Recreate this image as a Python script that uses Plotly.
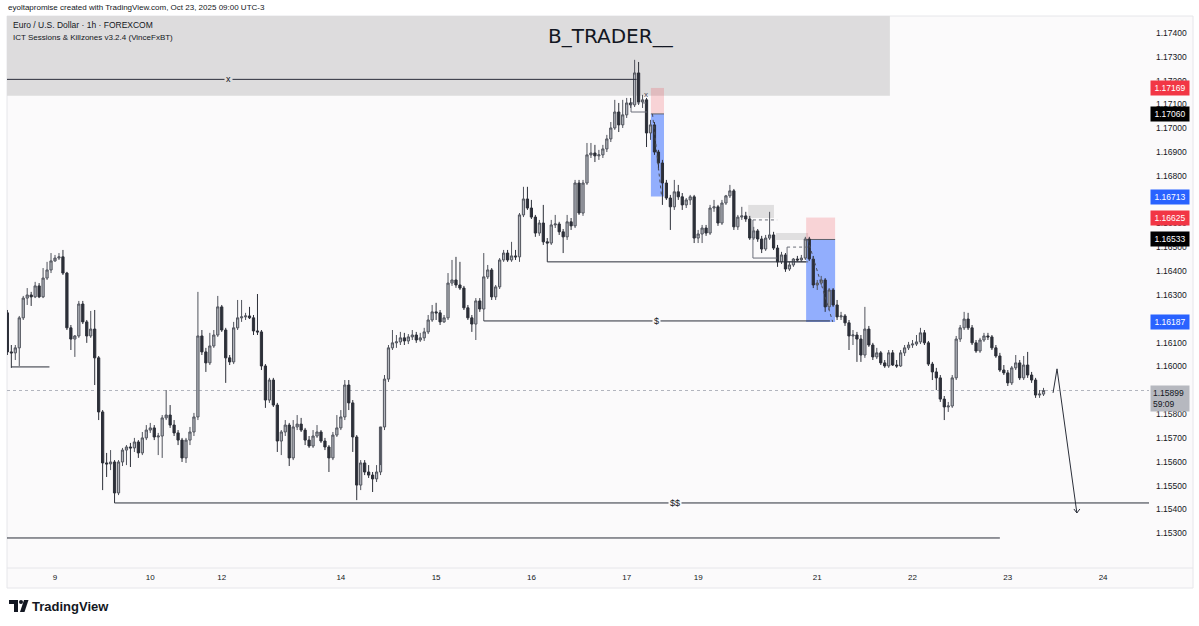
import pandas as pd
import plotly.graph_objects as go

# ---------------- text ----------------
credit_line = "eyoltapromise created with TradingView.com, Oct 23, 2025 09:00 UTC-3"
symbol_line = "Euro / U.S. Dollar · 1h · FOREXCOM"
indicator_line = "ICT Sessions & Killzones v3.2.4 (VinceFxBT)"
title_text = "B_TRADER__"

# ---------------- data (EURUSD 1h, first bar 2025-10-08 12:00 UTC-3) ----------------
first_bar = "2025-10-08 12:00"
opens = [
 1.16225, 1.16061, 1.16057, 1.16078, 1.16204, 1.16287, 1.16300, 1.16292, 1.16338, 1.16292,
 1.16371, 1.16405, 1.16443, 1.16455, 1.16460, 1.16392, 1.16162, 1.16115, 1.16128, 1.16262,
 1.16187, 1.16128, 1.16157, 1.16036, 1.15809, 1.15595, 1.15591, 1.15599, 1.15469, 1.15599,
 1.15649, 1.15662, 1.15658, 1.15683, 1.15637, 1.15700, 1.15733, 1.15742, 1.15704, 1.15708,
 1.15784, 1.15796, 1.15754, 1.15721, 1.15691, 1.15616, 1.15691, 1.15725, 1.15788, 1.16128,
 1.16061, 1.16015, 1.16086, 1.16132, 1.16250, 1.16153, 1.16036, 1.16019, 1.16162, 1.16204,
 1.16208, 1.16212, 1.16204, 1.16149, 1.16145, 1.16002, 1.15859, 1.15943, 1.15838, 1.15687,
 1.15725, 1.15754, 1.15616, 1.15746, 1.15758, 1.15733, 1.15691, 1.15666, 1.15708, 1.15725,
 1.15687, 1.15662, 1.15616, 1.15712, 1.15742, 1.15788, 1.15922, 1.15847, 1.15704, 1.15502,
 1.15595, 1.15557, 1.15544, 1.15528, 1.15557, 1.15746, 1.15947, 1.16078, 1.16099, 1.16103,
 1.16120, 1.16107, 1.16124, 1.16132, 1.16111, 1.16120, 1.16145, 1.16195, 1.16229, 1.16225,
 1.16187, 1.16204, 1.16350, 1.16363, 1.16342, 1.16329, 1.16246, 1.16204, 1.16178, 1.16275,
 1.16241, 1.16376, 1.16405, 1.16292, 1.16334, 1.16447, 1.16476, 1.16447, 1.16464, 1.16460,
 1.16636, 1.16703, 1.16665, 1.16627, 1.16560, 1.16602, 1.16523, 1.16518, 1.16594, 1.16598,
 1.16565, 1.16544, 1.16607, 1.16590, 1.16770, 1.16644, 1.16770, 1.16888, 1.16896, 1.16884,
 1.16888, 1.16913, 1.16955, 1.17001, 1.17068, 1.17014, 1.17056, 1.17106, 1.17098, 1.17232,
 1.17110, 1.17119, 1.16980, 1.17014, 1.16900, 1.16854, 1.16770, 1.16707, 1.16670, 1.16733,
 1.16712, 1.16678, 1.16699, 1.16712, 1.16539, 1.16556, 1.16581, 1.16560, 1.16665, 1.16670,
 1.16602, 1.16686, 1.16716, 1.16737, 1.16586, 1.16627, 1.16632, 1.16619, 1.16539, 1.16569,
 1.16535, 1.16493, 1.16539, 1.16552, 1.16497, 1.16439, 1.16468, 1.16409, 1.16426, 1.16451,
 1.16447, 1.16455, 1.16535, 1.16451, 1.16342, 1.16350, 1.16363, 1.16250, 1.16321, 1.16258,
 1.16208, 1.16212, 1.16183, 1.16128, 1.16132, 1.16115, 1.16048, 1.16157, 1.16090, 1.16040,
 1.16057, 1.16015, 1.16002, 1.16057, 1.16006, 1.16002, 1.16057, 1.16078, 1.16090, 1.16094,
 1.16103, 1.16141, 1.16099, 1.16010, 1.15977, 1.15952, 1.15863, 1.15830, 1.15834, 1.15952,
 1.16115, 1.16162, 1.16199, 1.16162, 1.16099, 1.16065, 1.16111, 1.16128, 1.16124, 1.16078,
 1.16044, 1.15985, 1.15973, 1.15931, 1.15994, 1.16015, 1.15952, 1.16006, 1.15964, 1.15943,
 1.15880, 1.15884,
]
highs = [
 1.16237, 1.16090, 1.16090, 1.16212, 1.16296, 1.16329, 1.16313, 1.16355, 1.16350, 1.16413,
 1.16439, 1.16476, 1.16468, 1.16476, 1.16489, 1.16397, 1.16174, 1.16132, 1.16275, 1.16275,
 1.16195, 1.16233, 1.16237, 1.16044, 1.15817, 1.15637, 1.15649, 1.15607, 1.15607, 1.15658,
 1.15670, 1.15679, 1.15700, 1.15691, 1.15725, 1.15754, 1.15763, 1.15754, 1.15721, 1.15796,
 1.15901, 1.15838, 1.15775, 1.15733, 1.15700, 1.15700, 1.15746, 1.15805, 1.16313, 1.16153,
 1.16078, 1.16141, 1.16153, 1.16296, 1.16258, 1.16162, 1.16048, 1.16187, 1.16279, 1.16279,
 1.16225, 1.16250, 1.16216, 1.16304, 1.16153, 1.16010, 1.15952, 1.15952, 1.15847, 1.15733,
 1.15775, 1.15763, 1.15775, 1.15796, 1.15784, 1.15742, 1.15708, 1.15733, 1.15754, 1.15733,
 1.15700, 1.15670, 1.15725, 1.15796, 1.15817, 1.15943, 1.15943, 1.15859, 1.15712, 1.15607,
 1.15607, 1.15586, 1.15557, 1.15586, 1.15586, 1.15964, 1.16090, 1.16153, 1.16132, 1.16145,
 1.16141, 1.16136, 1.16153, 1.16145, 1.16141, 1.16162, 1.16216, 1.16258, 1.16267, 1.16237,
 1.16216, 1.16392, 1.16447, 1.16460, 1.16439, 1.16338, 1.16258, 1.16216, 1.16287, 1.16287,
 1.16476, 1.16426, 1.16413, 1.16342, 1.16455, 1.16489, 1.16489, 1.16523, 1.16489, 1.16644,
 1.16754, 1.16754, 1.16699, 1.16636, 1.16615, 1.16678, 1.16539, 1.16615, 1.16636, 1.16607,
 1.16577, 1.16636, 1.16623, 1.16783, 1.16783, 1.16783, 1.16938, 1.16938, 1.16930, 1.16909,
 1.16930, 1.16972, 1.17026, 1.17119, 1.17106, 1.17119, 1.17127, 1.17127, 1.17287, 1.17278,
 1.17140, 1.17127, 1.17035, 1.17026, 1.16909, 1.16867, 1.16783, 1.16720, 1.16783, 1.16762,
 1.16728, 1.16707, 1.16720, 1.16720, 1.16573, 1.16594, 1.16594, 1.16678, 1.16699, 1.16678,
 1.16699, 1.16720, 1.16762, 1.16745, 1.16636, 1.16670, 1.16649, 1.16632, 1.16586, 1.16577,
 1.16548, 1.16552, 1.16649, 1.16565, 1.16510, 1.16481, 1.16476, 1.16439, 1.16455, 1.16464,
 1.16468, 1.16544, 1.16544, 1.16464, 1.16363, 1.16380, 1.16371, 1.16329, 1.16329, 1.16279,
 1.16229, 1.16220, 1.16195, 1.16153, 1.16145, 1.16132, 1.16250, 1.16170, 1.16099, 1.16078,
 1.16065, 1.16027, 1.16069, 1.16069, 1.16027, 1.16069, 1.16090, 1.16103, 1.16111, 1.16132,
 1.16162, 1.16153, 1.16107, 1.16019, 1.15994, 1.15964, 1.15876, 1.15851, 1.15964, 1.16128,
 1.16174, 1.16229, 1.16225, 1.16174, 1.16111, 1.16120, 1.16141, 1.16141, 1.16132, 1.16090,
 1.16057, 1.16006, 1.15985, 1.16002, 1.16048, 1.16027, 1.16044, 1.16061, 1.15977, 1.15952,
 1.15901, 1.15910,
]
lows = [
 1.16048, 1.15994, 1.16027, 1.16002, 1.16195, 1.16258, 1.16254, 1.16287, 1.16287, 1.16287,
 1.16363, 1.16392, 1.16439, 1.16447, 1.16384, 1.16153, 1.16069, 1.16040, 1.16120, 1.16178,
 1.16099, 1.16120, 1.15922, 1.15775, 1.15481, 1.15536, 1.15565, 1.15427, 1.15460, 1.15582,
 1.15586, 1.15578, 1.15641, 1.15616, 1.15628, 1.15691, 1.15721, 1.15691, 1.15628, 1.15616,
 1.15775, 1.15742, 1.15708, 1.15670, 1.15599, 1.15595, 1.15670, 1.15708, 1.15775, 1.16048,
 1.15977, 1.16006, 1.16078, 1.16124, 1.16145, 1.15931, 1.16006, 1.16010, 1.16153, 1.16187,
 1.16195, 1.16199, 1.16132, 1.16132, 1.15985, 1.15826, 1.15847, 1.15830, 1.15641, 1.15628,
 1.15708, 1.15582, 1.15607, 1.15733, 1.15725, 1.15670, 1.15658, 1.15658, 1.15700, 1.15679,
 1.15649, 1.15557, 1.15607, 1.15704, 1.15733, 1.15775, 1.15817, 1.15641, 1.15439, 1.15481,
 1.15544, 1.15532, 1.15473, 1.15515, 1.15544, 1.15733, 1.15935, 1.16069, 1.16078, 1.16090,
 1.16090, 1.16094, 1.16111, 1.16099, 1.16103, 1.16107, 1.16136, 1.16187, 1.16195, 1.16174,
 1.16183, 1.16195, 1.16338, 1.16330, 1.16321, 1.16237, 1.16195, 1.16145, 1.16111, 1.16229,
 1.16191, 1.16367, 1.16279, 1.16279, 1.16325, 1.16439, 1.16439, 1.16439, 1.16447, 1.16439,
 1.16627, 1.16657, 1.16619, 1.16544, 1.16548, 1.16510, 1.16439, 1.16510, 1.16581, 1.16552,
 1.16476, 1.16531, 1.16573, 1.16581, 1.16636, 1.16632, 1.16762, 1.16875, 1.16858, 1.16867,
 1.16875, 1.16900, 1.16942, 1.16993, 1.16984, 1.17001, 1.17043, 1.17085, 1.17089, 1.17098,
 1.17085, 1.16921, 1.16951, 1.16888, 1.16825, 1.16678, 1.16699, 1.16573, 1.16657, 1.16699,
 1.16657, 1.16665, 1.16678, 1.16518, 1.16518, 1.16518, 1.16548, 1.16552, 1.16649, 1.16590,
 1.16594, 1.16678, 1.16707, 1.16573, 1.16573, 1.16615, 1.16607, 1.16531, 1.16531, 1.16523,
 1.16476, 1.16485, 1.16531, 1.16489, 1.16418, 1.16430, 1.16397, 1.16401, 1.16418, 1.16439,
 1.16439, 1.16447, 1.16443, 1.16329, 1.16321, 1.16342, 1.16229, 1.16237, 1.16250, 1.16195,
 1.16195, 1.16170, 1.16069, 1.16090, 1.16019, 1.16019, 1.16036, 1.16082, 1.16027, 1.16031,
 1.16006, 1.15994, 1.15994, 1.16002, 1.15994, 1.15998, 1.16044, 1.16069, 1.16078, 1.16086,
 1.16094, 1.16090, 1.16002, 1.15943, 1.15901, 1.15851, 1.15775, 1.15809, 1.15826, 1.15943,
 1.16103, 1.16153, 1.16153, 1.16090, 1.16057, 1.16057, 1.16103, 1.16111, 1.16069, 1.16036,
 1.15977, 1.15964, 1.15918, 1.15922, 1.15985, 1.15943, 1.15943, 1.15952, 1.15931, 1.15868,
 1.15868, 1.15876,
]
closes = [
 1.16061, 1.16057, 1.16078, 1.16204, 1.16287, 1.16300, 1.16292, 1.16338, 1.16292, 1.16371,
 1.16405, 1.16443, 1.16455, 1.16460, 1.16392, 1.16162, 1.16115, 1.16128, 1.16262, 1.16187,
 1.16128, 1.16157, 1.16036, 1.15809, 1.15595, 1.15591, 1.15599, 1.15469, 1.15599, 1.15649,
 1.15662, 1.15658, 1.15683, 1.15637, 1.15700, 1.15733, 1.15742, 1.15704, 1.15708, 1.15784,
 1.15796, 1.15754, 1.15721, 1.15691, 1.15616, 1.15691, 1.15725, 1.15788, 1.16128, 1.16061,
 1.16015, 1.16086, 1.16132, 1.16250, 1.16153, 1.16036, 1.16019, 1.16162, 1.16204, 1.16208,
 1.16212, 1.16204, 1.16149, 1.16145, 1.16002, 1.15859, 1.15943, 1.15838, 1.15687, 1.15725,
 1.15754, 1.15616, 1.15746, 1.15758, 1.15733, 1.15691, 1.15666, 1.15708, 1.15725, 1.15687,
 1.15662, 1.15616, 1.15712, 1.15742, 1.15788, 1.15922, 1.15847, 1.15704, 1.15502, 1.15595,
 1.15557, 1.15544, 1.15528, 1.15557, 1.15746, 1.15947, 1.16078, 1.16099, 1.16103, 1.16120,
 1.16107, 1.16124, 1.16132, 1.16111, 1.16120, 1.16145, 1.16195, 1.16229, 1.16225, 1.16187,
 1.16204, 1.16350, 1.16363, 1.16342, 1.16329, 1.16246, 1.16204, 1.16178, 1.16275, 1.16241,
 1.16376, 1.16405, 1.16292, 1.16334, 1.16447, 1.16476, 1.16447, 1.16464, 1.16460, 1.16636,
 1.16703, 1.16665, 1.16627, 1.16560, 1.16602, 1.16523, 1.16518, 1.16594, 1.16598, 1.16565,
 1.16544, 1.16607, 1.16590, 1.16770, 1.16644, 1.16770, 1.16888, 1.16896, 1.16884, 1.16888,
 1.16913, 1.16955, 1.17001, 1.17068, 1.17014, 1.17056, 1.17106, 1.17098, 1.17232, 1.17110,
 1.17119, 1.16980, 1.17014, 1.16900, 1.16854, 1.16770, 1.16707, 1.16670, 1.16733, 1.16712,
 1.16678, 1.16699, 1.16712, 1.16539, 1.16556, 1.16581, 1.16560, 1.16665, 1.16670, 1.16602,
 1.16686, 1.16716, 1.16737, 1.16586, 1.16627, 1.16632, 1.16619, 1.16539, 1.16569, 1.16535,
 1.16493, 1.16539, 1.16552, 1.16497, 1.16439, 1.16468, 1.16409, 1.16426, 1.16451, 1.16447,
 1.16455, 1.16535, 1.16451, 1.16342, 1.16350, 1.16363, 1.16250, 1.16321, 1.16258, 1.16208,
 1.16212, 1.16183, 1.16128, 1.16132, 1.16115, 1.16048, 1.16157, 1.16090, 1.16040, 1.16057,
 1.16015, 1.16002, 1.16057, 1.16006, 1.16002, 1.16057, 1.16078, 1.16090, 1.16094, 1.16103,
 1.16141, 1.16099, 1.16010, 1.15977, 1.15952, 1.15863, 1.15830, 1.15834, 1.15952, 1.16115,
 1.16162, 1.16199, 1.16162, 1.16099, 1.16065, 1.16111, 1.16128, 1.16124, 1.16078, 1.16044,
 1.15985, 1.15973, 1.15931, 1.15994, 1.16015, 1.15952, 1.16006, 1.15964, 1.15943, 1.15880,
 1.15884, 1.15899,
]

# axis ticks
tick_times = ["2025-10-09 00:00", "2025-10-10 00:00", "2025-10-12 18:00", "2025-10-14 00:00",
              "2025-10-15 00:00", "2025-10-16 00:00", "2025-10-17 00:00", "2025-10-19 18:00",
              "2025-10-21 00:00", "2025-10-22 00:00", "2025-10-23 00:00", "2025-10-24 00:00"]
tick_labels = ["9", "10", "12", "14", "15", "16", "17", "19", "21", "22", "23", "24"]
price_ticks = [1.153, 1.154, 1.155, 1.156, 1.157, 1.158, 1.159, 1.160, 1.161, 1.162, 1.163,
               1.164, 1.165, 1.166, 1.167, 1.168, 1.169, 1.170, 1.171, 1.172, 1.173, 1.174]

# drawing levels / anchors
level_x = 1.17205
level_left_low = 1.15998
level_mid_low = 1.16439
level_dollar = 1.16191
level_double_dollar = 1.15427
level_bottom = 1.15280
supply_zone_bottom = 1.17136
last_price = 1.15899
short1 = dict(stop=1.17169, entry=1.17060, target=1.16713,
              start="2025-10-17 06:06", end="2025-10-17 09:24")
short2 = dict(stop=1.16625, entry=1.16533, target=1.16187,
              start="2025-10-20 21:12", end="2025-10-21 04:30")
grey_zone_a = dict(top=1.16678, bottom=1.16623, start="2025-10-20 06:36", end="2025-10-20 13:06")
grey_zone_b = dict(top=1.16560, bottom=1.16531, start="2025-10-20 13:36", end="2025-10-20 21:42")
outline_a = dict(top=1.16615, bottom=1.16455, start="2025-10-20 07:48", end="2025-10-20 13:54")
outline_b = dict(top=1.16501, bottom=1.16439, start="2025-10-20 16:24", end="2025-10-20 21:42")
peak_outline = dict(top=1.17106, bottom=1.17068, start="2025-10-17 01:06", end="2025-10-17 05:06")
peak_mark = dict(time="2025-10-17 04:54", price=1.17140)
projection_times = ["2025-10-23 11:24", "2025-10-23 12:24", "2025-10-23 17:24"]
projection_prices = [1.15889, 1.15990, 1.15385]

# ---------------- trading-hour calendar (weekend gap removed) ----------------
def trading_hours(start, end):
    out = []
    for t in pd.date_range(start, end, freq="h"):
        wd = t.weekday()
        if (wd == 4 and t.hour >= 18) or wd == 5 or (wd == 6 and t.hour < 18):
            continue
        out.append(t)
    return out

hours = trading_hours(first_bar, "2025-10-25 12:00")
hour_pos = {t: i for i, t in enumerate(hours)}

def bx(ts):
    t = pd.Timestamp(ts)
    base = t.floor("h")
    return hour_pos[base] + (t - base).total_seconds() / 3600.0

n = len(closes)
bar_x = [bx(t) for t in hours[:n]]

# ---------------- layout geometry (pixels) ----------------
W, H = 1199, 626
PL, PR, PT, PB = 7, 1149, 16, 568
pw, ph = PR - PL, PB - PT
bar_px = 3.97
x_range = [bx("2025-10-09 00:00") - (55 - PL) / bar_px, bx("2025-10-09 00:00") + (PR - 55) / bar_px]
y_range = [1.15154, 1.17471]
px_per_price = ph / (y_range[1] - y_range[0])

def pxx(x):
    return (x - PL) / pw

def pxy(y):
    return (PB - y) / ph

BG = "#fbfafb"
TXT = "#131722"
FONT = "Liberation Sans, Arial, sans-serif"

fig = go.Figure()

fig.add_trace(go.Candlestick(
    x=bar_x, open=opens, high=highs, low=lows, close=closes,
    increasing=dict(line=dict(color="#50535c", width=1), fillcolor="#b3b6bd"),
    decreasing=dict(line=dict(color="#2c2f38", width=1), fillcolor="#2c2f38"),
    whiskerwidth=0, showlegend=False, hoverinfo="skip"))

# projection arrow
proj_x = [bx(t) for t in projection_times]
fig.add_trace(go.Scatter(x=proj_x, y=projection_prices, mode="lines",
                         line=dict(color="#2a2e39", width=1), showlegend=False, hoverinfo="skip"))
tip_x, tip_y = proj_x[-1], projection_prices[-1]
ax_off = 3 / bar_px
ay_off = 4 / px_per_price
fig.add_trace(go.Scatter(x=[tip_x - ax_off, tip_x, tip_x + ax_off],
                         y=[tip_y + ay_off, tip_y, tip_y + ay_off], mode="lines",
                         line=dict(color="#2a2e39", width=1), showlegend=False, hoverinfo="skip"))

shapes = []
# chart background (plot + price scale + time scale)
shapes.append(dict(type="rect", xref="paper", yref="paper", x0=0, x1=pxx(1193), y0=pxy(588), y1=1,
                   fillcolor=BG, line=dict(color="#e6e6ea", width=1), layer="below"))
shapes.append(dict(type="line", xref="paper", yref="paper", x0=0, x1=pxx(1193), y0=0, y1=0,
                   line=dict(color="#e6e6ea", width=1), layer="below"))
# supply zone (grey box at top)
shapes.append(dict(type="rect", xref="x", yref="y", x0=x_range[0], x1=bx("2025-10-21 18:18"),
                   y0=supply_zone_bottom, y1=y_range[1], fillcolor="#dddcdd", line=dict(width=0), layer="below"))
# grey zones
for z in (grey_zone_a, grey_zone_b):
    shapes.append(dict(type="rect", xref="x", yref="y", x0=bx(z["start"]), x1=bx(z["end"]),
                       y0=z["bottom"], y1=z["top"], fillcolor="#e0dfe0", line=dict(width=0), layer="below"))
for z in (outline_a, outline_b, peak_outline):
    shapes.append(dict(type="line", xref="x", yref="y", x0=bx(z["start"]), x1=bx(z["end"]),
                       y0=z["top"], y1=z["top"], line=dict(color="#6a6d78", width=1, dash="dot"), layer="above"))
    shapes.append(dict(type="line", xref="x", yref="y", x0=bx(z["start"]), x1=bx(z["start"]),
                       y0=z["top"], y1=z["bottom"], line=dict(color="#6a6d78", width=1), layer="above"))
    shapes.append(dict(type="line", xref="x", yref="y", x0=bx(z["start"]), x1=bx(z["end"]),
                       y0=z["bottom"], y1=z["bottom"], line=dict(color="#6a6d78", width=1), layer="above"))
# short positions
for s in (short1, short2):
    x0, x1 = bx(s["start"]), bx(s["end"])
    shapes.append(dict(type="rect", xref="x", yref="y", x0=x0, x1=x1, y0=s["entry"], y1=s["stop"],
                       fillcolor="rgba(242,54,69,0.2)", line=dict(width=0), layer="below"))
    shapes.append(dict(type="rect", xref="x", yref="y", x0=x0, x1=x1, y0=s["target"], y1=s["entry"],
                       fillcolor="rgba(41,98,255,0.5)", line=dict(width=0), layer="below"))
    shapes.append(dict(type="line", xref="x", yref="y", x0=x0, x1=x1, y0=s["entry"], y1=s["entry"],
                       line=dict(color="#5d606b", width=1), layer="below"))
    shapes.append(dict(type="line", xref="x", yref="y", x0=x0 + 0.4, x1=x1 - 0.6, y0=s["entry"], y1=s["target"],
                       line=dict(color="#4a4d57", width=1, dash="dot"), layer="above"))
# last price dotted line
shapes.append(dict(type="line", xref="x", yref="y", x0=x_range[0], x1=x_range[1], y0=last_price, y1=last_price,
                   line=dict(color="#b2b5be", width=1, dash="dot"), layer="below"))
# horizontal levels
levels = [
    (x_range[0], bx("2025-10-17 02:30"), level_x),
    (bx("2025-10-08 13:00"), bx("2025-10-08 22:36"), level_left_low),
    (bx("2025-10-16 04:00"), bx("2025-10-20 21:12"), level_mid_low),
    (bx("2025-10-15 12:00"), bx("2025-10-21 03:12"), level_dollar),
    (bx("2025-10-09 15:00"), x_range[1], level_double_dollar),
    (x_range[0], bx("2025-10-22 22:00"), level_bottom),
]
for x0, x1, lv in levels:
    shapes.append(dict(type="line", xref="x", yref="y", x0=x0, x1=x1, y0=lv, y1=lv,
                       line=dict(color="#2a2e39", width=1), layer="above"))

annotations = []
# level labels
annotations.append(dict(x=bx("2025-10-12 19:36"), y=level_x, xref="x", yref="y", text="x", showarrow=False,
                        font=dict(size=9, color=TXT, family=FONT), bgcolor="#dddcdd", borderpad=1))
annotations.append(dict(x=bx("2025-10-17 07:36"), y=level_dollar, xref="x", yref="y", text="$", showarrow=False,
                        font=dict(size=9, color=TXT, family=FONT), bgcolor=BG, borderpad=1))
annotations.append(dict(x=bx("2025-10-17 12:12"), y=level_double_dollar, xref="x", yref="y", text="$$",
                        showarrow=False, font=dict(size=9, color=TXT, family=FONT), bgcolor=BG, borderpad=1))
annotations.append(dict(x=bx(peak_mark["time"]), y=peak_mark["price"], xref="x", yref="y", text="x",
                        showarrow=False, font=dict(size=8, color="#4a4d57", family=FONT)))
# header
annotations.append(dict(x=pxx(6), y=pxy(8), xref="paper", yref="paper", text=credit_line, showarrow=False,
                        xanchor="left", yanchor="middle", font=dict(size=8, color=TXT, family=FONT)))
annotations.append(dict(x=pxx(11), y=pxy(25), xref="paper", yref="paper", text=symbol_line, showarrow=False,
                        xanchor="left", yanchor="middle", font=dict(size=8.5, color=TXT, family=FONT)))
annotations.append(dict(x=pxx(11), y=pxy(38), xref="paper", yref="paper", text=indicator_line, showarrow=False,
                        xanchor="left", yanchor="middle", font=dict(size=8, color=TXT, family=FONT)))
annotations.append(dict(x=pxx(611), y=pxy(36), xref="paper", yref="paper", text=title_text, showarrow=False,
                        xanchor="center", yanchor="middle", font=dict(size=20, color=TXT, family="DejaVu Sans")))
# price-scale labels
scale_labels = [
    (short1["stop"], "#f23645", "white"), (short1["entry"], "#000000", "white"),
    (short1["target"], "#2962ff", "white"), (short2["stop"], "#f23645", "white"),
    (short2["entry"], "#000000", "white"), (short2["target"], "#2962ff", "white"),
]
for v, bg, fc in scale_labels:
    annotations.append(dict(x=1, y=v, xref="paper", yref="y", text=f"{v:.5f}", showarrow=False,
                            xanchor="left", yanchor="middle", xshift=1,
                            font=dict(size=8.5, color=fc, family=FONT), bgcolor=bg, borderpad=2, width=34))
annotations.append(dict(x=1, y=last_price, xref="paper", yref="y", text=f"{last_price:.5f}<br>59:09",
                        showarrow=False, xanchor="left", yanchor="top", xshift=1, yshift=6, align="left",
                        font=dict(size=8.5, color=TXT, family=FONT), bgcolor="#b6b8bf", borderpad=2, width=34))
# TradingView logo
annotations.append(dict(x=pxx(30), y=pxy(606), xref="paper", yref="paper", text="<b>TradingView</b>",
                        showarrow=False, xanchor="left", yanchor="middle",
                        font=dict(size=13, color="#131722", family=FONT)))
shapes.append(dict(type="path", xref="paper", yref="paper",
                   path=f"M {pxx(9)},{pxy(600)} L {pxx(18)},{pxy(600)} L {pxx(18)},{pxy(612)} "
                        f"L {pxx(14)},{pxy(612)} L {pxx(14)},{pxy(604)} L {pxx(9)},{pxy(604)} Z",
                   fillcolor="#131722", line=dict(width=0)))
shapes.append(dict(type="circle", xref="paper", yref="paper", x0=pxx(19), x1=pxx(23), y0=pxy(604), y1=pxy(600),
                   fillcolor="#131722", line=dict(width=0)))
shapes.append(dict(type="path", xref="paper", yref="paper",
                   path=f"M {pxx(24)},{pxy(600)} L {pxx(28.5)},{pxy(600)} L {pxx(24.5)},{pxy(612)} "
                        f"L {pxx(20)},{pxy(612)} Z",
                   fillcolor="#131722", line=dict(width=0)))

fig.update_layout(
    width=W, height=H,
    margin=dict(l=PL, r=W - PR, t=PT, b=H - PB, pad=0),
    paper_bgcolor="white", plot_bgcolor="rgba(0,0,0,0)", boxgap=0.2,
    showlegend=False, shapes=shapes, annotations=annotations,
    xaxis=dict(range=x_range, rangeslider=dict(visible=False), showgrid=False, zeroline=False,
               tickvals=[bx(t) for t in tick_times], ticktext=tick_labels, ticks="", ticklabelstandoff=3,
               tickfont=dict(size=8, color=TXT, family=FONT), showline=False, fixedrange=True),
    yaxis=dict(range=y_range, side="right", showgrid=False, zeroline=False, tickvals=price_ticks,
               ticktext=[f"{v:.5f}" for v in price_ticks], ticks="", ticklabelstandoff=6,
               tickfont=dict(size=8.5, color=TXT, family=FONT), showline=False, fixedrange=True),
)

fig.write_html("out.html", config={"displayModeBar": False},
               post_script="document.body.style.margin='0';")
